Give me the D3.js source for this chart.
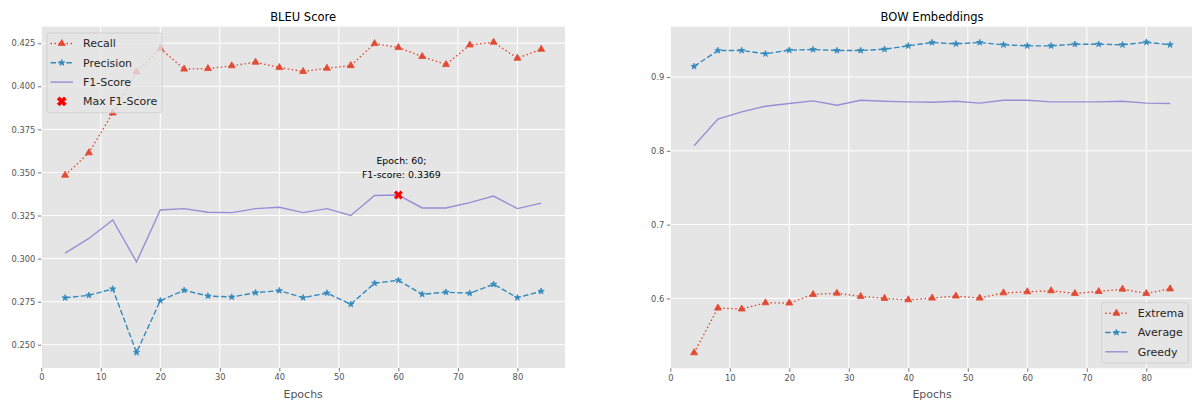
<!DOCTYPE html>
<html>
<head>
<meta charset="utf-8">
<script src="https://cdn.jsdelivr.net/npm/d3@7"></script>
<style>
  html, body { margin: 0; padding: 0; background: #fff; }
  svg { display: block; font-family: "DejaVu Sans", sans-serif; }
</style>
</head>
<body>
<svg id="fig" width="1192" height="400"></svg>
<script>
// Training epochs at which the model was evaluated
const epochs = [4, 8, 12, 16, 20, 24, 28, 32, 36, 40, 44, 48, 52, 56, 60, 64, 68, 72, 76, 80, 84];

// BLEU scores
const bleuRecall = [0.3484, 0.3614, 0.3845, 0.4084, 0.4219, 0.4100, 0.4103, 0.4119, 0.4140, 0.4109, 0.4086,
                    0.4105, 0.4120, 0.4248, 0.4225, 0.4173, 0.4126, 0.4240, 0.4256, 0.4163, 0.4215];
const bleuPrecision = [0.2772, 0.2787, 0.2824, 0.2455, 0.2756, 0.2816, 0.2783, 0.2777, 0.2802, 0.2814, 0.2773,
                       0.2800, 0.2735, 0.2857, 0.2874, 0.2793, 0.2805, 0.2799, 0.2851, 0.2773, 0.2810];
const bleuF1 = [0.3032, 0.3117, 0.3224, 0.2981, 0.3282, 0.3290, 0.3269, 0.3267, 0.3290, 0.3298, 0.3267,
                0.3290, 0.3250, 0.3366, 0.3369, 0.3294, 0.3294, 0.3325, 0.3363, 0.3290, 0.3322];
const maxF1Epoch = 60;
const maxF1Value = 0.3369;

// BOW embedding similarities
const bowExtrema = [0.5263, 0.5869, 0.5856, 0.5941, 0.5937, 0.6054, 0.6071, 0.6027, 0.6000, 0.5981, 0.6004,
                    0.6031, 0.6004, 0.6075, 0.6089, 0.6103, 0.6067, 0.6094, 0.6125, 0.6067, 0.6129];
const bowAverage = [0.9144, 0.9360, 0.9360, 0.9315, 0.9364, 0.9373, 0.9360, 0.9360, 0.9377, 0.9423, 0.9468,
                    0.9450, 0.9468, 0.9437, 0.9423, 0.9423, 0.9445, 0.9445, 0.9437, 0.9472, 0.9437];
const bowGreedy = [0.8070, 0.8430, 0.8528, 0.8605, 0.8641, 0.8677, 0.8619, 0.8686, 0.8672, 0.8663, 0.8659,
                   0.8672, 0.8646, 0.8686, 0.8686, 0.8663, 0.8663, 0.8663, 0.8672, 0.8646, 0.8641];

// Tick labels
const xTicks = [0, 10, 20, 30, 40, 50, 60, 70, 80];
const bleuTicks = [0.250, 0.275, 0.300, 0.325, 0.350, 0.375, 0.400, 0.425];
const bowTicks = [0.6, 0.7, 0.8, 0.9];

const COLORS = { red: "#E24A33", blue: "#348ABD", purple: "#988ED5" };

const svg = d3.select("#fig");

const triangle = d3.symbol().type(d3.symbolTriangle).size(21);
const star = d3.symbol().type(d3.symbolStar).size(12);
const xMark = d3.symbol().type(d3.symbolCross).size(50);

function paddedExtent(arrays) {
  const all = arrays.flat();
  const lo = d3.min(all), hi = d3.max(all);
  const pad = (hi - lo) * 0.05;
  return [lo - pad, hi + pad];
}

function drawPanel(cfg) {
  const g = svg.append("g");
  const { left, right, top, bottom } = cfg;

  const xDom = d3.extent(epochs);
  const xPad = (xDom[1] - xDom[0]) * 0.05;
  const x = d3.scaleLinear().domain([xDom[0] - xPad, xDom[1] + xPad]).range([left, right]);
  const y = d3.scaleLinear().domain(paddedExtent(cfg.series.map(s => s.values))).range([bottom, top]);

  // background
  g.append("rect").attr("x", left).attr("y", top)
    .attr("width", right - left).attr("height", bottom - top).attr("fill", "#E5E5E5");

  // grid
  g.append("g").selectAll("line").data(xTicks).join("line")
    .attr("x1", d => x(d)).attr("x2", d => x(d)).attr("y1", top).attr("y2", bottom)
    .attr("stroke", "#fff").attr("stroke-width", 1);
  g.append("g").selectAll("line").data(cfg.yTicks).join("line")
    .attr("x1", left).attr("x2", right).attr("y1", d => y(d)).attr("y2", d => y(d))
    .attr("stroke", "#fff").attr("stroke-width", 1);

  // axes
  const xAxis = d3.axisBottom(x).tickValues(xTicks).tickSize(3.5).tickPadding(3).tickFormat(d3.format("d"));
  const yAxis = d3.axisLeft(y).tickValues(cfg.yTicks).tickSize(3.5).tickPadding(2.5).tickFormat(d3.format(cfg.yFormat));
  const xa = g.append("g").attr("transform", `translate(0,${bottom})`).call(xAxis);
  const ya = g.append("g").attr("transform", `translate(${left},0)`).call(yAxis);
  [xa, ya].forEach(a => {
    a.select(".domain").remove();
    a.selectAll(".tick line").attr("stroke", "#555").attr("stroke-width", 0.8);
    a.selectAll(".tick text").attr("fill", "#555").attr("font-size", "8.3px")
      .attr("font-family", "DejaVu Sans, sans-serif");
  });

  // series
  const plot = g.append("g");
  cfg.series.forEach(s => {
    const pts = epochs.map((e, i) => [e, s.values[i]]);
    plot.append("path")
      .attr("d", d3.line().x(d => x(d[0])).y(d => y(d[1]))(pts))
      .attr("fill", "none").attr("stroke", s.color).attr("stroke-width", 1.4)
      .attr("stroke-dasharray", s.dash || null);
    if (s.marker) {
      plot.append("g").selectAll("path").data(pts).join("path")
        .attr("d", s.marker)
        .attr("transform", d => `translate(${x(d[0])},${y(d[1])})`)
        .attr("fill", s.color).attr("stroke", s.color).attr("stroke-width", 0.8);
    }
  });

  // title and x label
  g.append("text").attr("x", (left + right) / 2).attr("y", 21)
    .attr("text-anchor", "middle").attr("font-size", "11.5px").attr("fill", "#000")
    .text(cfg.title);
  g.append("text").attr("x", (left + right) / 2).attr("y", 397.5)
    .attr("text-anchor", "middle").attr("font-size", "11px").attr("fill", "#555")
    .text("Epochs");

  return { g, x, y };
}

function drawLegend(g, lx, ly, w, entries) {
  const rowH = 19.3;
  const lg = g.append("g").attr("transform", `translate(${lx},${ly})`);
  lg.append("rect").attr("x", 0).attr("y", 0).attr("width", w)
    .attr("height", entries.length * rowH + 2.5).attr("rx", 2.5)
    .attr("fill", "#E5E5E5").attr("fill-opacity", 0.8)
    .attr("stroke", "#CCCCCC").attr("stroke-width", 0.8);
  entries.forEach((e, i) => {
    const cy = 10.5 + i * rowH;
    if (e.line) {
      lg.append("line").attr("x1", 3.5).attr("x2", 26).attr("y1", cy).attr("y2", cy)
        .attr("stroke", e.color).attr("stroke-width", 1.4).attr("stroke-dasharray", e.dash || null);
    }
    if (e.marker) {
      lg.append("path").attr("d", e.marker)
        .attr("transform", `translate(14.75,${cy})${e.rotate ? " rotate(45)" : ""}`)
        .attr("fill", e.color).attr("stroke", e.color).attr("stroke-width", 0.8);
    }
    lg.append("text").attr("x", 36).attr("y", cy).attr("dy", "0.36em")
      .attr("font-size", "11px").attr("fill", "#262626").text(e.label);
  });
}

// BLEU panel
const bleu = drawPanel({
  left: 41.3, right: 565, top: 26.7, bottom: 368,
  title: "BLEU Score", yTicks: bleuTicks, yFormat: ".3f",
  series: [
    { values: bleuRecall, color: COLORS.red, dash: "1.5,2.5", marker: triangle() },
    { values: bleuPrecision, color: COLORS.blue, dash: "5.5,2.4", marker: star() },
    { values: bleuF1, color: COLORS.purple }
  ]
});

// best F1 epoch
bleu.g.append("path").attr("d", xMark())
  .attr("transform", `translate(${bleu.x(maxF1Epoch)},${bleu.y(maxF1Value)}) rotate(45)`)
  .attr("fill", "#FF0000");
const ann = bleu.g.append("text").attr("text-anchor", "middle")
  .attr("font-size", "9.4px").attr("fill", "#000");
ann.append("tspan").attr("x", bleu.x(maxF1Epoch) + 3).attr("y", 164).text(`Epoch: ${maxF1Epoch};`);
ann.append("tspan").attr("x", bleu.x(maxF1Epoch) + 3).attr("y", 177.5).text(`F1-score: ${maxF1Value}`);

drawLegend(bleu.g, 47, 33, 115, [
  { label: "Recall", color: COLORS.red, line: true, dash: "1.5,2.5", marker: triangle() },
  { label: "Precision", color: COLORS.blue, line: true, dash: "5.5,2.4", marker: star() },
  { label: "F1-Score", color: COLORS.purple, line: true },
  { label: "Max F1-Score", color: "#FF0000", marker: xMark(), rotate: true }
]);

// BOW panel
const bow = drawPanel({
  left: 670.3, right: 1193.9, top: 26.7, bottom: 368.3,
  title: "BOW Embeddings", yTicks: bowTicks, yFormat: ".1f",
  series: [
    { values: bowExtrema, color: COLORS.red, dash: "1.5,2.5", marker: triangle() },
    { values: bowAverage, color: COLORS.blue, dash: "5.5,2.4", marker: star() },
    { values: bowGreedy, color: COLORS.purple }
  ]
});

drawLegend(bow.g, 1101.7, 302.7, 86.6, [
  { label: "Extrema", color: COLORS.red, line: true, dash: "1.5,2.5", marker: triangle() },
  { label: "Average", color: COLORS.blue, line: true, dash: "5.5,2.4", marker: star() },
  { label: "Greedy", color: COLORS.purple, line: true }
]);
</script>
</body>
</html>
